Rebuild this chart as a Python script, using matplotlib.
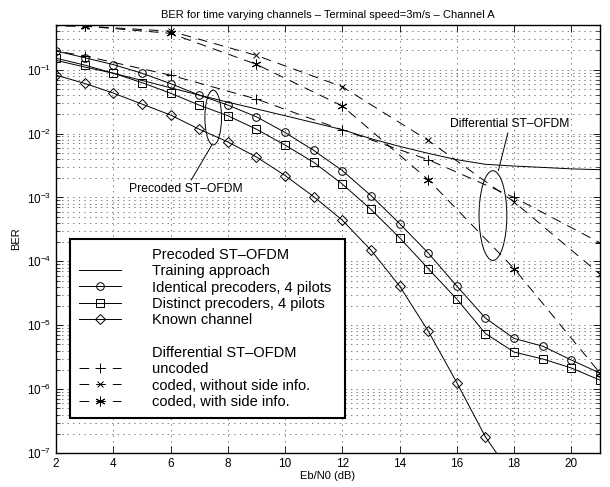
import matplotlib
matplotlib.use('Agg')
import matplotlib.pyplot as plt
from matplotlib.lines import Line2D
from matplotlib.patches import Ellipse
from matplotlib.ticker import LogLocator, NullFormatter

plt.rcParams['font.family'] = ['Liberation Sans', 'DejaVu Sans']
plt.rcParams['lines.scale_dashes'] = False

# Precoded ST-OFDM curves (one point per dB)
snr = list(range(2, 22))
training = [0.14, 0.11, 0.088, 0.068, 0.052, 0.040, 0.031, 0.0243, 0.019, 0.0148,
            0.0115, 0.0083, 0.0063, 0.0049, 0.0039, 0.0033, 0.0031, 0.00295, 0.0028, 0.00272]
identical = [0.196, 0.154, 0.12, 0.088, 0.0605, 0.040, 0.0279, 0.0183, 0.0104, 0.00545,
             0.00263, 0.00107, 3.9e-4, 1.35e-4, 4.1e-5, 1.29e-5, 6.2e-6, 4.7e-6, 2.85e-6, 1.78e-6]
distinct = [0.151, 0.118, 0.088, 0.0627, 0.0428, 0.0279, 0.019, 0.0117, 0.0066, 0.00355,
            0.00162, 6.5e-4, 2.34e-4, 7.7e-5, 2.56e-5, 7.4e-6, 3.8e-6, 2.96e-6, 2.14e-6, 1.38e-6]
snr_known = list(range(2, 19))
known = [0.082, 0.061, 0.043, 0.029, 0.0195, 0.0117, 0.0074, 0.0043, 0.0022, 0.00103,
         4.4e-4, 1.5e-4, 4.1e-5, 8.1e-6, 1.26e-6, 1.78e-7, 4e-8]

# Differential ST-OFDM curves (every 3 dB)
snr_diff = [0, 3, 6, 9, 12, 15, 18, 21]
uncoded = [0.28, 0.164, 0.082, 0.0347, 0.0114, 0.0039, 1.0e-3, 1.95e-4]
coded_no_side = [0.5, 0.48, 0.40, 0.167, 0.054, 0.0078, 8.5e-4, 6.3e-5]
coded_side = [0.5, 0.48, 0.37, 0.121, 0.027, 0.0019, 7.7e-5, 1.78e-6]

ber_ticks = [1e-7, 1e-6, 1e-5, 1e-4, 1e-3, 1e-2, 1e-1]

fig = plt.figure(figsize=(6.1, 4.87), dpi=100)
ax = fig.add_axes([56 / 610, 34 / 487, 544 / 610, 428 / 487])

lw = 0.7
ms = 5.5
dash = (7, 5)
ax.plot(snr, training, color='black', lw=lw)
ax.plot(snr, identical, color='black', lw=lw, marker='o', ms=ms, mfc='none', mew=0.7)
ax.plot(snr, distinct, color='black', lw=lw, marker='s', ms=ms, mfc='none', mew=0.7)
ax.plot(snr_known, known, color='black', lw=lw, marker='D', ms=5, mfc='none', mew=0.7)
ax.plot(snr_diff, uncoded, color='black', lw=lw, ls='--', dashes=dash, marker='+', ms=7, mew=0.7)
ax.plot(snr_diff, coded_no_side, color='black', lw=lw, ls='--', dashes=dash, marker='x', ms=5, mew=0.7)
ax.plot(snr_diff, coded_side, color='black', lw=lw, ls='--', dashes=dash, marker=(6, 2, 0), ms=7, mew=0.7)

ax.set_yscale('log')
ax.set_xlim(2, 21)
ax.set_ylim(1e-7, 0.5)
ax.set_xticks(range(2, 21, 2))
ax.set_yticks(ber_ticks)
ax.yaxis.set_minor_locator(LogLocator(base=10, subs=range(2, 10), numticks=20))
ax.yaxis.set_minor_formatter(NullFormatter())
ax.tick_params(which='both', direction='in', top=True, right=True, labelsize=8.5)
ax.tick_params(which='major', length=5, width=0.6)
ax.tick_params(which='minor', length=3, width=0.5)
for s in ax.spines.values():
    s.set_linewidth(1.0)

ax.grid(True, which='major', color='0.4', ls=(0, (1, 3)), lw=0.6)
ax.grid(True, which='minor', axis='y', color='0.4', ls=(0, (1, 3)), lw=0.6)

ax.set_title('BER for time varying channels \u2013 Terminal speed=3m/s \u2013 Channel A',
             fontsize=8, pad=5)
ax.set_xlabel('Eb/N0 (dB)', fontsize=8, labelpad=1)
ax.set_ylabel('BER', fontsize=8, labelpad=4)


def to_axes(x, y):
    return ax.transAxes.inverted().transform(ax.transData.transform((x, y)))


# ellipses grouping the curves
ax.add_patch(Ellipse(to_axes(7.49, 0.0178), 0.0305, 0.128, transform=ax.transAxes,
                     fill=False, lw=0.7, color='black'))
ax.add_patch(Ellipse(to_axes(17.26, 5.2e-4), 0.051, 0.2096, transform=ax.transAxes,
                     fill=False, lw=0.7, color='black'))

ax.annotate('Precoded ST\u2013OFDM', xy=(7.44, 0.0066), xytext=(6.54, 1.36e-3),
            ha='center', va='center', fontsize=8.7,
            arrowprops=dict(arrowstyle='-', lw=0.7, shrinkA=0, shrinkB=0))
ax.annotate('Differential ST\u2013OFDM', xy=(17.45, 2.63e-3), xytext=(17.86, 0.0141),
            ha='center', va='center', fontsize=8.7,
            arrowprops=dict(arrowstyle='-', lw=0.7, shrinkA=0, shrinkB=0))

blank = Line2D([], [], ls='none')
handles = [
    blank,
    Line2D([], [], color='black', lw=lw),
    Line2D([], [], color='black', lw=lw, marker='o', ms=ms, mfc='none', mew=0.7),
    Line2D([], [], color='black', lw=lw, marker='s', ms=ms, mfc='none', mew=0.7),
    Line2D([], [], color='black', lw=lw, marker='D', ms=5, mfc='none', mew=0.7),
    blank,
    blank,
    Line2D([], [], color='black', lw=lw, ls='--', dashes=dash, marker='+', ms=7, mew=0.7),
    Line2D([], [], color='black', lw=lw, ls='--', dashes=dash, marker='x', ms=5, mew=0.7),
    Line2D([], [], color='black', lw=lw, ls='--', dashes=dash, marker=(6, 2, 0), ms=7, mew=0.7),
]
labels = ['Precoded ST\u2013OFDM', 'Training approach', 'Identical precoders, 4 pilots',
          'Distinct precoders, 4 pilots', 'Known channel', ' ',
          'Differential ST\u2013OFDM', 'uncoded', 'coded, without side info.',
          'coded, with side info.']
leg = ax.legend(handles, labels, loc='upper left',
                bbox_to_anchor=(0.0257, 0.0, 0.5055, 0.4997), mode='expand',
                borderaxespad=0, fontsize=10.5, handlelength=2.9, handletextpad=2.1,
                borderpad=0.6, labelspacing=0.16, fancybox=False, framealpha=1,
                edgecolor='black')
leg.get_frame().set_linewidth(1.5)

fig.savefig('out.png', dpi=100)
